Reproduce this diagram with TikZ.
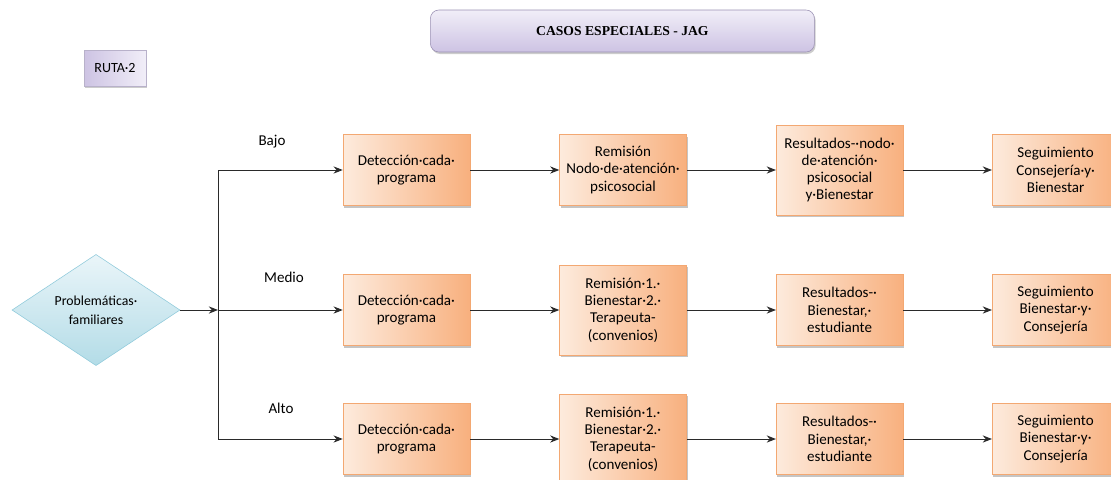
\documentclass[tikz,border=0pt]{standalone}
\usepackage{fontspec}
\setmainfont{Carlito}
\newfontfamily\titlefont{Liberation Serif}
\usetikzlibrary{arrows.meta, positioning, shapes.geometric, shadows}
\definecolor{orlight}{HTML}{FDEBDD}
\definecolor{ordark}{HTML}{F8B07E}
\definecolor{oredge}{HTML}{F3A872}
\definecolor{lvlight}{HTML}{F1EEF8}
\definecolor{lvdark}{HTML}{CDC3E3}
\definecolor{lvedge}{HTML}{9A90B3}
\definecolor{bllight}{HTML}{EAF5F9}
\definecolor{bldark}{HTML}{B3DCE7}
\definecolor{bledge}{HTML}{8FCADB}
\definecolor{lnclr}{HTML}{2A2A2A}

\begin{document}
\begin{tikzpicture}[
  every node/.style={font=\fontsize{10.7}{12.3}\selectfont},
  stepbox/.style={rectangle, draw=oredge, shading=axis, shading angle=60, left color=orlight, right color=ordark, minimum width=3.17cm, minimum height=#1, align=center, inner sep=1pt, drop shadow={shadow xshift=0.3mm, shadow yshift=-0.6mm, fill=black!45, opacity=0.5}},
  stepbox/.default=1.77cm,
  titlebox/.style={rectangle, rounded corners=6pt, draw=lvedge, top color=lvlight, bottom color=lvdark, minimum width=9.6cm, minimum height=1.05cm, font=\fontsize{9.7}{11}\selectfont, drop shadow={shadow xshift=0.3mm, shadow yshift=-0.5mm, fill=black!40, opacity=0.5}},
  rutabox/.style={rectangle, draw=lvedge!70, left color=lvdark, right color=lvlight, minimum width=1.55cm, minimum height=0.9cm, font=\fontsize{10}{12}\selectfont, drop shadow={shadow xshift=0.3mm, shadow yshift=-0.5mm, fill=black!40, opacity=0.5}},
  startdiam/.style={diamond, draw=bledge, top color=bllight, bottom color=bldark, minimum width=4.2cm, minimum height=2.4cm, inner sep=0pt, align=center, font=\fontsize{9.8}{13.5}\selectfont},
  flow/.style={-{Stealth[length=2.3mm, width=1.8mm]}, lnclr, line width=0.7pt},
]
\clip (0,0) rectangle (27.775,-11.975);

% Header
\node[titlebox] (title) at (15.56,-0.775) {\titlefont\bfseries CASOS ESPECIALES - JAG};
\node[rutabox] (ruta) at (2.875,-1.7) {RUTA·2};

% Start
\node[startdiam] (prob) at (2.4,-7.75) {Problemáticas·\\familiares};
\coordinate (split) at (5.45,-7.75);

% Bajo
\node (lbajo) at (6.8,-3.55) {Bajo};
\node[stepbox] (det1) at (10.16,-4.25) {Detección·cada·\\programa};
\node[stepbox] (rem1) at (15.575,-4.25) {Remisión\\Nodo·de·atención·\\psicosocial};
\node[stepbox=2.25cm] (res1) at (20.99,-4.25) {Resultados-·nodo·\\de·atención·\\psicosocial\\y·Bienestar};
\node[stepbox] (seg1) at (26.39,-4.25) {Seguimiento\\Consejería·y·\\Bienestar};

% Medio
\node (lmedio) at (7.1,-6.925) {Medio};
\node[stepbox] (det2) at (10.16,-7.75) {Detección·cada·\\programa};
\node[stepbox=2.25cm] (rem2) at (15.575,-7.75) {Remisión·1.·\\Bienestar·2.·\\Terapeuta-\\(convenios)};
\node[stepbox] (res2) at (20.99,-7.75) {Resultados-·\\Bienestar,·\\estudiante};
\node[stepbox] (seg2) at (26.39,-7.75) {Seguimiento\\Bienestar·y·\\Consejería};

% Alto
\node (lalto) at (7.025,-10.2) {Alto};
\node[stepbox] (det3) at (10.16,-10.975) {Detección·cada·\\programa};
\node[stepbox=2.25cm] (rem3) at (15.575,-10.975) {Remisión·1.·\\Bienestar·2.·\\Terapeuta-\\(convenios)};
\node[stepbox] (res3) at (20.99,-10.975) {Resultados-·\\Bienestar,·\\estudiante};
\node[stepbox] (seg3) at (26.39,-10.975) {Seguimiento\\Bienestar·y·\\Consejería};

% Connections
\draw[flow] (prob) -- (split);
\draw[flow] (split) |- (det1);
\draw[flow] (split) -- (det2);
\draw[flow] (split) |- (det3);

\foreach \r in {1,2,3} {
  \draw[flow] (det\r) -- (rem\r);
  \draw[flow] (rem\r) -- (res\r);
  \draw[flow] (res\r) -- (seg\r);
}

\end{tikzpicture}
\end{document}
